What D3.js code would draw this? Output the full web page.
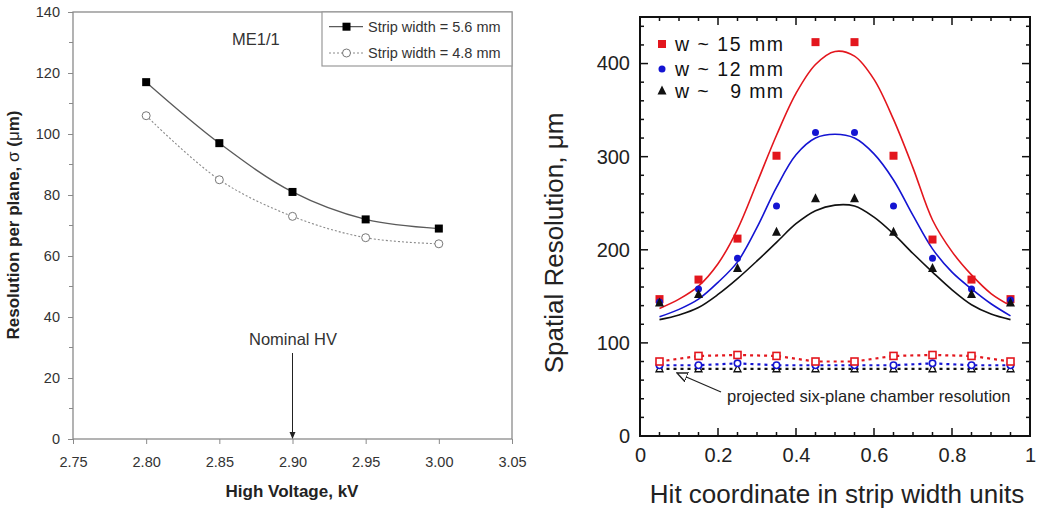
<!DOCTYPE html>
<html>
<head>
<meta charset="utf-8">
<script src="https://cdn.jsdelivr.net/npm/d3@7"></script>
<style>
  html, body { margin: 0; padding: 0; background: #fff; }
  svg { display: block; font-family: "Liberation Sans", Arial, sans-serif; }
</style>
</head>
<body>
<svg id="chart" width="1046" height="516"></svg>
<script>
// ---------------- Left panel data ----------------
const hvValues = [2.80, 2.85, 2.90, 2.95, 3.00];
const res56 = [117, 97, 81, 72, 69];
const res48 = [106, 85, 73, 66, 64];
const leftXTicks = [2.75, 2.80, 2.85, 2.90, 2.95, 3.00, 3.05];
const leftYTicks = [0, 20, 40, 60, 80, 100, 120, 140];
const leftSeriesNames = ["Strip width = 5.6 mm", "Strip width = 4.8 mm"];

// ---------------- Right panel data ----------------
const hitX = [0.05, 0.15, 0.25, 0.35, 0.45, 0.55, 0.65, 0.75, 0.85, 0.95];
const w15 = [147, 168, 212, 301, 423, 423, 301, 211, 168, 147];
const w12 = [144, 158, 191, 247, 326, 326, 247, 191, 158, 146];
const w9  = [143, 152, 180, 219, 255, 255, 219, 180, 152, 143];
const fitX = [0.05, 0.10, 0.15, 0.20, 0.25, 0.30, 0.35, 0.40, 0.45, 0.50, 0.55, 0.60, 0.65, 0.70, 0.75, 0.80, 0.85, 0.90, 0.95];
const fit15 = [137, 147, 161, 185, 222, 272, 323, 368, 399, 413, 408, 383, 340, 288, 232, 198, 173, 153, 140];
const fit12 = [128, 136, 147, 165, 187, 224, 267, 302, 320, 324, 320, 303, 275, 237, 201, 176, 158, 142, 129];
const fit9  = [125, 130, 138, 152, 169, 188, 208, 228, 242, 248, 247, 235, 217, 196, 176, 157, 141, 131, 125];
const six15 = [80, 86, 87, 86, 80, 80, 86, 87, 86, 80];
const six12 = [76, 76, 78, 76, 76, 76, 76, 78, 76, 76];
const six9  = [72, 72, 72, 72, 72, 72, 72, 72, 72, 72];
const rightXTicks = [0, 0.2, 0.4, 0.6, 0.8, 1];
const rightXTickLabels = ["0", "0.2", "0.4", "0.6", "0.8", "1"];
const rightYTicks = [0, 100, 200, 300, 400];
const rightSeriesNames = ["w ~ 15 mm", "w ~ 12 mm", "w ~   9 mm"];

const svg = d3.select("#chart");

// =============== LEFT PANEL ===============
(function () {
  const x = d3.scaleLinear().domain([2.75, 3.05]).range([73, 512]);
  const y = d3.scaleLinear().domain([0, 140]).range([439, 12]);
  const g = svg.append("g");
  const axisCol = "#8a8a8a";

  g.append("rect").attr("x", x(2.75)).attr("y", y(140))
    .attr("width", x(3.05) - x(2.75)).attr("height", y(0) - y(140))
    .attr("fill", "none").attr("stroke", axisCol).attr("stroke-width", 1.3);

  const ya = g.append("g").attr("transform", `translate(${x(2.75)},0)`)
    .call(d3.axisLeft(y).tickValues(leftYTicks).tickSize(5).tickPadding(8).tickFormat(d3.format("d")));
  g.append("g").selectAll("line").data(d3.range(10, 140, 20)).join("line")
    .attr("x1", x(2.75)).attr("x2", x(2.75) - 4)
    .attr("y1", d => y(d)).attr("y2", d => y(d)).attr("stroke", axisCol);

  const xa = g.append("g").attr("transform", `translate(0,${y(0)})`)
    .call(d3.axisBottom(x).tickValues(leftXTicks).tickSize(5).tickPadding(13).tickFormat(d3.format(".2f")));

  [ya, xa].forEach(a => {
    a.select(".domain").remove();
    a.selectAll(".tick line").attr("stroke", axisCol);
    a.selectAll(".tick text").attr("fill", "#333").style("font-size", "14.5px")
      .style("font-family", "Liberation Sans, Arial, sans-serif");
  });

  g.append("text").attr("x", 292).attr("y", 497).attr("text-anchor", "middle")
    .style("font-size", "17px").style("font-weight", "bold").attr("fill", "#222")
    .text("High Voltage, kV");
  const yt = g.append("text").attr("transform", "translate(19,225) rotate(-90)")
    .attr("text-anchor", "middle").style("font-size", "17px").style("font-weight", "bold").attr("fill", "#222");
  yt.append("tspan").text("Resolution per plane, ");
  yt.append("tspan").style("font-weight", "normal").text("σ");
  yt.append("tspan").text(" (");
  yt.append("tspan").style("font-weight", "normal").text("μ");
  yt.append("tspan").text("m)");

  const line = d3.line().x((d, i) => x(hvValues[i])).y(d => y(d)).curve(d3.curveCatmullRom);
  g.append("path").attr("d", line(res56)).attr("fill", "none").attr("stroke", "#5a5a5a").attr("stroke-width", 1.3);
  g.append("path").attr("d", line(res48)).attr("fill", "none").attr("stroke", "#8a8a8a")
    .attr("stroke-width", 1.1).attr("stroke-dasharray", "2,2");

  g.append("g").selectAll("rect").data(res56).join("rect")
    .attr("x", (d, i) => x(hvValues[i]) - 4).attr("y", d => y(d) - 4)
    .attr("width", 8).attr("height", 8).attr("fill", "#000");
  g.append("g").selectAll("circle").data(res48).join("circle")
    .attr("cx", (d, i) => x(hvValues[i])).attr("cy", d => y(d)).attr("r", 4)
    .attr("fill", "#fff").attr("stroke", "#777").attr("stroke-width", 1);

  g.append("text").attr("x", 232).attr("y", 45).style("font-size", "16.5px").attr("fill", "#333").text("ME1/1");

  g.append("text").attr("x", 293).attr("y", 345).attr("text-anchor", "middle")
    .style("font-size", "16.5px").attr("fill", "#333").text("Nominal HV");
  g.append("line").attr("x1", x(2.90)).attr("x2", x(2.90)).attr("y1", 353).attr("y2", y(0) - 5)
    .attr("stroke", "#222").attr("stroke-width", 1);
  g.append("path").attr("d", `M${x(2.90) - 3},${y(0) - 7} L${x(2.90) + 3},${y(0) - 7} L${x(2.90)},${y(0)} Z`).attr("fill", "#222");

  const lg = g.append("g");
  lg.append("rect").attr("x", 322).attr("y", 12).attr("width", 512 - 322).attr("height", 54)
    .attr("fill", "#fff").attr("stroke", "#999").attr("stroke-width", 1.2);
  const rows = [26.7, 53];
  lg.append("line").attr("x1", 329).attr("x2", 363).attr("y1", rows[0]).attr("y2", rows[0]).attr("stroke", "#5a5a5a").attr("stroke-width", 1.3);
  lg.append("rect").attr("x", 346.5 - 4).attr("y", rows[0] - 4).attr("width", 8).attr("height", 8).attr("fill", "#000");
  lg.append("line").attr("x1", 329).attr("x2", 363).attr("y1", rows[1]).attr("y2", rows[1]).attr("stroke", "#8a8a8a").attr("stroke-dasharray", "2,2");
  lg.append("circle").attr("cx", 346.5).attr("cy", rows[1]).attr("r", 4).attr("fill", "#fff").attr("stroke", "#777");
  lg.selectAll("text").data(leftSeriesNames).join("text")
    .attr("x", 368).attr("y", (d, i) => rows[i] + 5).style("font-size", "14.5px").attr("fill", "#333").text(d => d);
})();

// =============== RIGHT PANEL ===============
(function () {
  const x = d3.scaleLinear().domain([0, 1]).range([640, 1030]);
  const y = d3.scaleLinear().domain([0, 450]).range([436, 17]);
  const g = svg.append("g");
  const red = "#e3161d", blue = "#1414d2", black = "#111";

  const minorX = d3.range(0, 21).map(i => i * 0.05);
  const minorY = d3.range(0, 23).map(i => i * 20).filter(v => v <= 450);
  const tk = g.append("g").attr("stroke", "#111").attr("stroke-width", 1.5);
  minorX.forEach(v => {
    const major = Math.abs(v * 5 - Math.round(v * 5)) < 1e-6;
    const L = major ? 8 : 4;
    tk.append("line").attr("x1", x(v)).attr("x2", x(v)).attr("y1", y(0)).attr("y2", y(0) - L);
    tk.append("line").attr("x1", x(v)).attr("x2", x(v)).attr("y1", y(450)).attr("y2", y(450) + L);
  });
  minorY.forEach(v => {
    const major = v % 100 === 0;
    const L = major ? 8 : 4;
    tk.append("line").attr("y1", y(v)).attr("y2", y(v)).attr("x1", x(0)).attr("x2", x(0) + L);
    tk.append("line").attr("y1", y(v)).attr("y2", y(v)).attr("x1", x(1)).attr("x2", x(1) - L);
  });

  const ya = g.append("g").attr("transform", `translate(${x(0)},0)`)
    .call(d3.axisLeft(y).tickValues(rightYTicks).tickSize(0).tickPadding(10));
  const xa = g.append("g").attr("transform", `translate(0,${y(0)})`)
    .call(d3.axisBottom(x).tickValues(rightXTicks).tickSize(0).tickPadding(12)
      .tickFormat((d, i) => rightXTickLabels[i]));
  [ya, xa].forEach(a => {
    a.select(".domain").remove();
    a.selectAll(".tick text").attr("fill", "#222").style("font-size", "20px")
      .style("font-family", "Liberation Sans, Arial, sans-serif");
  });

  g.append("rect").attr("x", x(0)).attr("y", y(450)).attr("width", x(1) - x(0)).attr("height", y(0) - y(450))
    .attr("fill", "none").attr("stroke", "#111").attr("stroke-width", 2);

  g.append("text").attr("x", (x(0) + x(1)) / 2 + 2).attr("y", 503).attr("text-anchor", "middle")
    .style("font-size", "26px").attr("fill", "#222").text("Hit coordinate in strip width units");
  g.append("text").attr("transform", "translate(563,243) rotate(-90)").attr("text-anchor", "middle")
    .style("font-size", "26px").attr("fill", "#222").text("Spatial Resolution, μm");

  const fline = d3.line().x((d, i) => x(fitX[i])).y(d => y(d)).curve(d3.curveCatmullRom);
  [[fit15, red], [fit12, blue], [fit9, black]].forEach(([arr, c]) => {
    g.append("path").attr("d", fline(arr)).attr("fill", "none").attr("stroke", c).attr("stroke-width", 1.6);
  });

  const dline = d3.line().x((d, i) => x(hitX[i])).y(d => y(d));
  [[six9, black], [six12, blue], [six15, red]].forEach(([arr, c]) => {
    g.append("path").attr("d", dline(arr)).attr("fill", "none").attr("stroke", c)
      .attr("stroke-width", 2.2).attr("stroke-dasharray", "3,4");
  });
  const tri = (cx, cy, s) => `M${cx},${cy - s * 0.6} L${cx + s / 2},${cy + s * 0.4} L${cx - s / 2},${cy + s * 0.4} Z`;
  g.append("g").selectAll("path").data(six9).join("path")
    .attr("d", (d, i) => tri(x(hitX[i]), y(d), 7)).attr("fill", "#fff").attr("stroke", black).attr("stroke-width", 1.3);
  g.append("g").selectAll("circle").data(six12).join("circle")
    .attr("cx", (d, i) => x(hitX[i])).attr("cy", d => y(d)).attr("r", 3.2)
    .attr("fill", "#fff").attr("stroke", blue).attr("stroke-width", 1.6);
  g.append("g").selectAll("rect").data(six15).join("rect")
    .attr("x", (d, i) => x(hitX[i]) - 3.5).attr("y", d => y(d) - 3.5).attr("width", 7).attr("height", 7)
    .attr("fill", "#fff").attr("stroke", red).attr("stroke-width", 1.6);

  g.append("g").selectAll("rect").data(w15).join("rect")
    .attr("x", (d, i) => x(hitX[i]) - 4).attr("y", d => y(d) - 4).attr("width", 8).attr("height", 8).attr("fill", red);
  g.append("g").selectAll("circle").data(w12).join("circle")
    .attr("cx", (d, i) => x(hitX[i])).attr("cy", d => y(d)).attr("r", 3.5).attr("fill", blue);
  g.append("g").selectAll("path").data(w9).join("path")
    .attr("d", (d, i) => tri(x(hitX[i]), y(d), 9)).attr("fill", black);

  const lrows = [44, 69, 91];
  g.append("rect").attr("x", 662 - 4).attr("y", lrows[0] - 4).attr("width", 8).attr("height", 8).attr("fill", red);
  g.append("circle").attr("cx", 662).attr("cy", lrows[1]).attr("r", 3.5).attr("fill", blue);
  g.append("path").attr("d", tri(662, lrows[2], 9)).attr("fill", black);
  g.append("g").selectAll("text").data(rightSeriesNames).join("text")
    .attr("x", 675).attr("y", (d, i) => lrows[i] + 7).style("font-size", "19.5px").attr("fill", "#111")
    .attr("textLength", 108).attr("lengthAdjust", "spacing")
    .style("white-space", "pre").attr("xml:space", "preserve").text(d => d);

  svg.append("defs").append("marker").attr("id", "openArrow").attr("viewBox", "0 0 10 10")
    .attr("refX", 9).attr("refY", 5).attr("markerWidth", 9).attr("markerHeight", 9).attr("orient", "auto")
    .append("path").attr("d", "M0,1 L9,5 L0,9 Z").attr("fill", "#fff").attr("stroke", "#222").attr("stroke-width", 1.2);
  g.append("line").attr("x1", 721).attr("y1", 392).attr("x2", 677).attr("y2", 373)
    .attr("stroke", "#222").attr("stroke-width", 1.3).attr("marker-end", "url(#openArrow)");
  g.append("text").attr("x", 727).attr("y", 402).style("font-size", "16.5px").attr("fill", "#222")
    .text("projected six-plane chamber resolution");
})();
</script>
</body>
</html>
